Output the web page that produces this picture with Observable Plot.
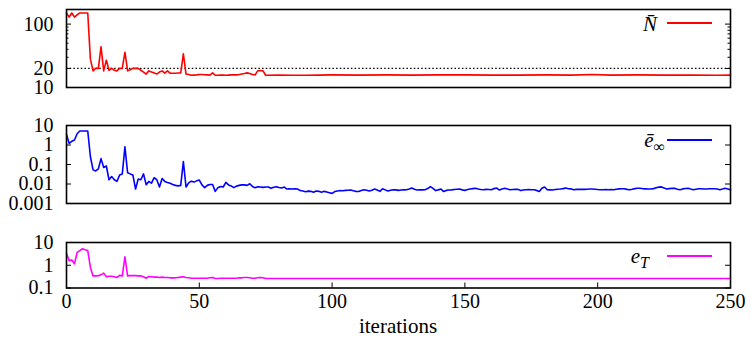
<!DOCTYPE html>
<html><head><meta charset="utf-8">
<script src="https://cdn.jsdelivr.net/npm/d3@7"></script>
<script src="https://cdn.jsdelivr.net/npm/@observablehq/plot@0.6"></script>
<style>
body{margin:0;background:#fff;}
#chart{position:relative;width:751px;height:342px;font-family:"Liberation Serif","Times New Roman",serif;color:#000;background:#fff;}
#chart svg{position:absolute;left:0;overflow:visible;}
.leg{position:absolute;font-style:italic;font-size:21px;line-height:1;white-space:nowrap;text-align:right;}
.leg sub{font-size:16px;vertical-align:-5px;}
.legline{position:absolute;height:2px;width:45px;left:667px;}
.xlab{position:absolute;font-size:21px;line-height:1;width:751px;text-align:center;left:0;}
</style></head><body><div id="chart"></div>
<script>
// ---- data ----
const xTicks = [0, 50, 100, 150, 200, 250];
const nTicks = [10, 20, 100];
const nMinor = [30, 40, 50, 60, 70, 80, 90];
const eInfTicks = [0.001, 0.01, 0.1, 1, 10];
const eTTicks = [0.1, 1, 10];
const nThreshold = 20;

const redIter = [0,1,2,3,4,5,6,7,8,9,10,11,12,13,14,15,16,17,18,19,20,21,22,23,24,25,26,27,28,29,30,31,32,33,34,35,36,37,38,39,40,41,42,43,44,45,46,47,48,49,50,51,52,53,54,55,56,57,58,59,60,61,62,63,64,65,66,67,68,69,70,71,72,73,74,75,
  80,85,90,95,100,110,120,130,140,150,160,170,180,190,198,205,215,225,235,245,250];
const redVal = [150,129,150,129,140,150,150,150,150,28,18.3,20,20,44,18.3,27,18.7,20,18.7,18.3,20,20,36,18.3,19,20,20,20,18.7,17.5,16.3,18.3,17.5,17,16.3,17.5,18.3,16.8,18.3,16.8,16.8,16.8,16.9,17,34,16.3,16,15.6,15.7,15.8,16,16,15.9,15.8,15.7,17,15.6,15.6,15.7,15.7,15.6,15.7,15.8,15.9,15.8,16,16.3,16.6,17,16.6,16,15.8,18.3,18.5,18.3,15.6,
  15.7,15.6,15.6,15.7,15.8,15.7,15.8,15.7,15.8,15.8,15.7,15.7,15.8,15.7,16.0,15.7,15.8,15.7,15.7,15.6,15.7];

// e_inf, one value per iteration 0..250
const blueVal = [3.5,1.2,1.55,1.8,3.8,5.2,5.2,5.2,5.2,0.25,0.053,0.047,0.06,0.2,0.07,0.084,0.0165,0.024,0.0165,0.0136,
0.029,0.033,0.8,0.038,0.033,0.029,0.0055,0.018,0.0165,0.033,0.0091,0.0136,0.011,0.021,0.0165,0.007,0.019,0.0136,0.012,0.011,
0.0095,0.0085,0.008,0.0085,0.14,0.007,0.0115,0.014,0.0125,0.0145,0.016,0.009,0.0065,0.0085,0.0095,0.0095,0.0042,0.0065,0.0075,0.007,
0.012,0.009,0.008,0.0065,0.0078,0.0085,0.009,0.009,0.0085,0.0103,0.0075,0.0065,0.0072,0.007,0.0067,0.007,0.007,0.006,0.0068,0.0073,
0.0066,0.0062,0.007,0.0055,0.0057,0.0055,0.0056,0.0055,0.0046,0.0044,0.004,0.0043,0.0042,0.0038,0.0044,0.0042,0.0038,0.0042,0.0039,0.0036,
0.0033,0.0041,0.0044,0.0046,0.0045,0.0047,0.0048,0.0049,0.0045,0.0042,0.0041,0.0046,0.0051,0.0048,0.0044,0.0048,0.0055,0.0049,0.0042,0.0057,
0.005,0.0044,0.0048,0.0051,0.005,0.0047,0.0049,0.005,0.0051,0.0055,0.0062,0.0054,0.0049,0.0051,0.005,0.0051,0.0058,0.0074,0.006,0.0046,
0.005,0.0055,0.0041,0.0047,0.0049,0.005,0.0052,0.0054,0.0055,0.005,0.0047,0.0052,0.0055,0.0058,0.006,0.0055,0.0052,0.0051,0.0053,0.0052,
0.0051,0.0058,0.0062,0.0049,0.0056,0.006,0.0055,0.0051,0.0052,0.0053,0.0053,0.0046,0.0049,0.0051,0.0052,0.0051,0.0051,0.0047,0.0041,0.006,
0.007,0.0051,0.005,0.0049,0.0052,0.0054,0.0055,0.0058,0.0062,0.0057,0.0056,0.0051,0.0053,0.0054,0.0053,0.0053,0.0054,0.0055,0.0055,0.0054,
0.0052,0.0051,0.0051,0.0052,0.0051,0.0052,0.0051,0.0054,0.0056,0.0057,0.0057,0.0053,0.0051,0.0054,0.0058,0.0061,0.006,0.0057,0.0056,0.0055,
0.0055,0.0058,0.0064,0.0069,0.0071,0.0062,0.0055,0.0058,0.006,0.006,0.0054,0.0051,0.0056,0.0059,0.006,0.0055,0.0051,0.0054,0.0057,0.0057,
0.0055,0.0055,0.0057,0.0057,0.0057,0.0055,0.0051,0.0055,0.006,0.0056,0.0051];

const magIter = [0,1,2,3,4,5,6,7,8,9,10,11,12,13,14,15,16,17,18,19,20,21,22,23,24,25,26,27,28,29,30,31,32,33,34,35,36,37,38,39,40,41,42,43,44,45,46,47,48,49,50,51,52,53,54,55,56,57,58,59,60,61,62,63,64,65,66,67,68,69,70,71,72,73,74,75,
  80,90,100,125,150,175,200,225,250];
const magVal = [3.3,1.6,1.7,1.15,3.7,4.4,5.3,4.8,4.4,0.8,0.34,0.34,0.35,0.38,0.45,0.31,0.33,0.33,0.31,0.29,0.36,0.34,2.35,0.34,0.35,0.35,0.35,0.34,0.34,0.31,0.27,0.32,0.31,0.3,0.3,0.29,0.3,0.29,0.29,0.28,0.28,0.28,0.29,0.3,0.31,0.29,0.28,0.27,0.27,0.27,0.27,0.27,0.27,0.27,0.28,0.29,0.26,0.26,0.27,0.27,0.27,0.27,0.27,0.27,0.27,0.28,0.28,0.29,0.29,0.28,0.27,0.27,0.28,0.29,0.28,0.26,
  0.26,0.262,0.262,0.262,0.262,0.262,0.262,0.262,0.262];

// ---- drawing ----
const W = 751, ML = 66, MR = 21, FW = W - ML - MR;
const FONT = '"Liberation Serif", "Times New Roman", serif';
const style = {fontFamily: FONT, fontSize: "20px", color: "black", background: "transparent", overflow: "visible"};
const chart = document.getElementById("chart");

function yTicks(vals, len) {
  return [
    Plot.tickY(vals, {y: d => d, insetRight: FW - len, stroke: "black", strokeWidth: 1}),
    Plot.tickY(vals, {y: d => d, insetLeft: FW - len, stroke: "black", strokeWidth: 1})
  ];
}

function panel({top, height, mt, mb, domain, ticks, minor, lineData, color, extra = [], xaxis = false}) {
  const fh = height - mt - mb;
  const marks = [
    ...extra,
    Plot.line(lineData, {x: "x", y: "y", stroke: color, strokeWidth: 1.6}),
    Plot.axisY({ticks, tickSize: 0, tickPadding: 13, tickFormat: d => String(d), label: null, fontFamily: FONT}),
    ...yTicks(ticks, 5),
    ...(minor ? yTicks(minor, 2.5) : []),
    Plot.frame({stroke: "black", strokeWidth: 1.6})
  ];
  if (xaxis) {
    marks.push(Plot.axisX({ticks: xTicks, tickSize: 0, tickPadding: 6, label: null, tickFormat: d => String(d), fontFamily: FONT}));
    marks.push(Plot.tickX(xTicks, {x: d => d, insetTop: fh - 5, stroke: "black", strokeWidth: 1}));
  }
  const svg = Plot.plot({
    width: W, height, marginLeft: ML, marginRight: MR, marginTop: mt, marginBottom: mb,
    style,
    x: {domain: [0, 250], axis: xaxis ? undefined : null},
    y: {type: "log", domain},
    marks
  });
  svg.style.top = top + "px";
  chart.appendChild(svg);
}

const toRows = (xs, ys) => xs.map((x, i) => ({x, y: ys[i]}));

panel({top: 0, height: 100, mt: 9, mb: 13, domain: [10, 170], ticks: nTicks, minor: nMinor,
  lineData: toRows(redIter, redVal), color: "#ff0000",
  extra: [Plot.ruleY([nThreshold], {stroke: "black", strokeWidth: 1.2, strokeDasharray: "1.5,2.2"})]});
panel({top: 100, height: 115, mt: 25, mb: 12, domain: [0.001, 10], ticks: eInfTicks,
  lineData: blueVal.map((y, x) => ({x, y})), color: "#0000ff"});
panel({top: 215, height: 127, mt: 27, mb: 54.5, domain: [0.1, 10], ticks: eTTicks,
  lineData: toRows(magIter, magVal), color: "#ff00ff", xaxis: true});

// legends and x label
function legend(html, right, cy, ly, color) {
  const t = document.createElement("div");
  t.className = "leg";
  t.innerHTML = html;
  t.style.right = (W - right) + "px";
  t.style.top = (cy - 11) + "px";
  chart.appendChild(t);
  const l = document.createElement("div");
  l.className = "legline";
  l.style.top = ly + "px";
  l.style.backgroundColor = color;
  chart.appendChild(l);
}
legend("N\u0304", 657, 25, 22, "#ff0000");
legend("\u0113<sub style=\"font-style:normal\">\u221E</sub>", 665, 141, 139, "#0000ff");
legend("e<sub>T</sub>", 649, 257, 255, "#ff00ff");

const xl = document.createElement("div");
xl.className = "xlab";
xl.style.left = (ML + FW / 2 - W / 2) + "px";
xl.style.top = "316px";
xl.textContent = "iterations";
chart.appendChild(xl);
</script>
</body></html>
